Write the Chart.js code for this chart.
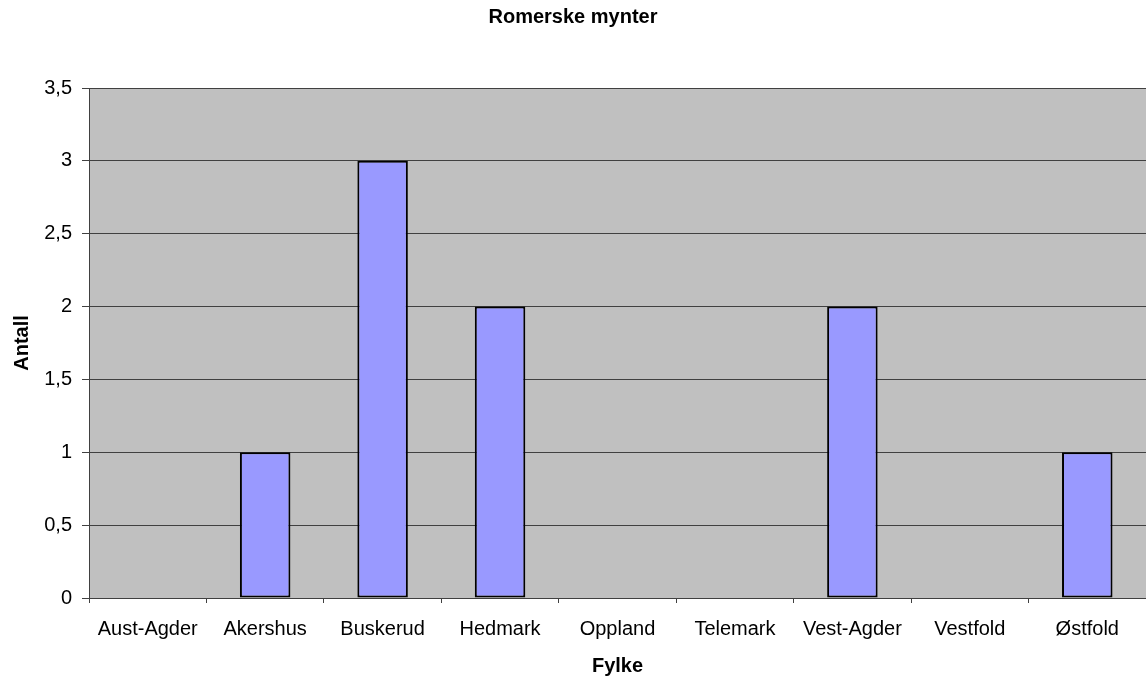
<!DOCTYPE html>
<html>
<head>
<meta charset="utf-8">
<title>Romerske mynter</title>
<script src="https://cdn.jsdelivr.net/npm/chart.js@4/dist/chart.umd.min.js"></script>
<style>
  html, body { margin: 0; padding: 0; background: #fff; }
  canvas { display: block; }
</style>
</head>
<body>
<canvas id="myntChart" width="1146" height="679"></canvas>
<script>
// --- Data for the chart: ---
const fylker = ['Aust-Agder', 'Akershus', 'Buskerud', 'Hedmark', 'Oppland', 'Telemark', 'Vest-Agder', 'Vestfold', 'Østfold'];
const antall = [0, 1, 3, 2, 0, 0, 2, 0, 1];
const yMax = 3.5;
const yStep = 0.5;

const fontFamily = '"Liberation Sans", Arial, sans-serif';
const axisColor = '#404040';

// grey plot background behind the bars
const plotBackground = {
    id: 'plotBackground',
    beforeDraw: (chart) => {
        const { ctx, chartArea } = chart;
        ctx.save();
        ctx.fillStyle = '#c0c0c0';
        ctx.fillRect(chartArea.left, chartArea.top, chartArea.right - chartArea.left, chartArea.bottom - chartArea.top);
        ctx.restore();
    }
};

const createMyntChart = () => {
    const ctx = document.querySelector('#myntChart').getContext('2d');
    new Chart(ctx, {
        type: 'bar',
        data: {
            labels: fylker,
            datasets: [
                {
                    label: 'Antall',
                    backgroundColor: '#9999ff',
                    borderColor: '#000000',
                    borderWidth: 2,
                    borderSkipped: false,
                    barPercentage: 0.43,
                    categoryPercentage: 1,
                    data: antall
                }
            ]
        },
        plugins: [plotBackground],
        options: {
            responsive: false,
            animation: false,
            layout: { padding: 0 },
            plugins: {
                legend: { display: false },
                tooltip: { enabled: false },
                title: {
                    display: true,
                    text: 'Romerske mynter',
                    color: '#000',
                    font: { family: fontFamily, size: 20, weight: 'bold' },
                    padding: { top: 5, bottom: 59 }
                }
            },
            scales: {
                x: {
                    offset: true,
                    grid: {
                        offset: true,
                        drawOnChartArea: false,
                        drawTicks: true,
                        tickLength: 5,
                        color: axisColor
                    },
                    border: { color: axisColor, width: 1 },
                    ticks: {
                        color: '#000',
                        padding: 14,
                        maxRotation: 0,
                        autoSkip: false,
                        font: { family: fontFamily, size: 20 }
                    },
                    title: {
                        display: true,
                        text: 'Fylke',
                        color: '#000',
                        font: { family: fontFamily, size: 20, weight: 'bold' },
                        padding: { top: 0, bottom: 1 }
                    },
                    afterFit: (scale) => { scale.height = 81; }
                },
                y: {
                    min: 0,
                    max: yMax,
                    grid: {
                        color: axisColor,
                        tickLength: 7
                    },
                    border: { color: axisColor, width: 1 },
                    ticks: {
                        stepSize: yStep,
                        color: '#000',
                        padding: 10,
                        font: { family: fontFamily, size: 20 },
                        callback: (val) => String(val).replace('.', ',')
                    },
                    title: {
                        display: true,
                        text: 'Antall',
                        color: '#000',
                        font: { family: fontFamily, size: 20, weight: 'bold' },
                        padding: { top: 10, bottom: 0 }
                    },
                    afterFit: (scale) => { scale.width = 89; }
                }
            }
        }
    });
};

createMyntChart();
</script>
</body>
</html>
